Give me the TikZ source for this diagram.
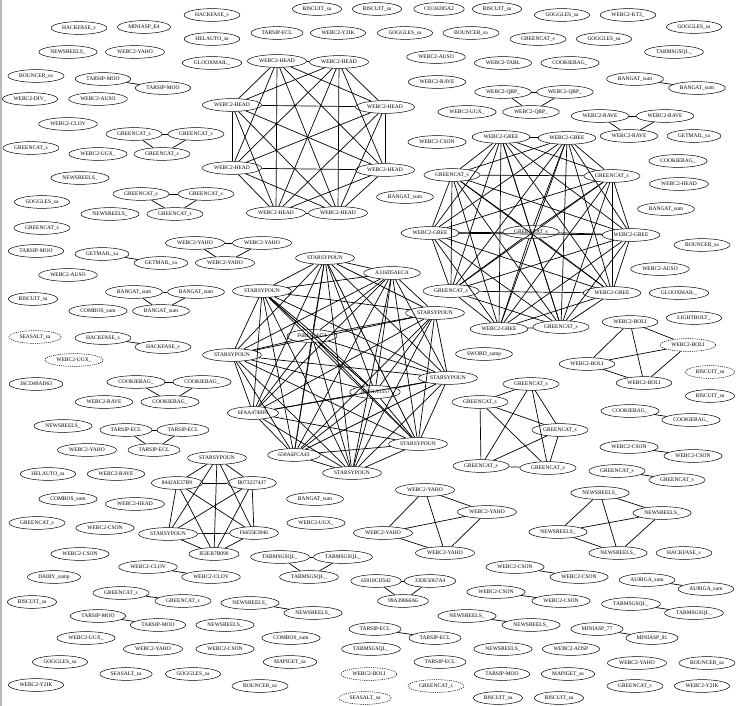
\documentclass[tikz,border=0pt]{standalone}
\usepackage{fontspec}
\setmainfont{Liberation Serif}
\usetikzlibrary{shapes.geometric}
\newcommand\gvfont{\fontsize{5.5}{6.5}\selectfont}
\tikzset{
  gv_node/.style={draw=black,ellipse,line width=0.5pt,inner xsep=3pt,inner ysep=2pt,
    text height=3.9pt,text depth=1.1pt,font=\gvfont},
  gv_dash/.style={gv_node,dash pattern=on 1.2pt off 1pt},
  gv_edge/.style={draw=black,line width=0.7pt},
}
\begin{document}
\begin{tikzpicture}[x=1pt,y=-1pt]
  \useasboundingbox (0,0) rectangle (737,706);
  \draw[gray!55,line width=1.6pt] (0.8,0)--(0.8,706);

  % WEBC2-HEAD ring
  \node[gv_node] (hd1) at (277,61) {WEBC2-HEAD};
  \node[gv_node] (hd2) at (339,62) {WEBC2-HEAD};
  \node[gv_node] (hd3) at (232,105) {WEBC2-HEAD};
  \node[gv_node] (hd4) at (385,107) {WEBC2-HEAD};
  \node[gv_node] (hd5) at (232,168) {WEBC2-HEAD};
  \node[gv_node] (hd6) at (385,170) {WEBC2-HEAD};
  \node[gv_node] (hd7) at (276,213) {WEBC2-HEAD};
  \node[gv_node] (hd8) at (338,213) {WEBC2-HEAD};

  % WEBC2-GREE ring
  \node[gv_node] (gr1) at (501,137) {WEBC2-GREE};
  \node[gv_node] (gr2) at (567,138) {WEBC2-GREE};
  \node[gv_node] (gr3) at (452,175) {GREENCAT\_s};
  \node[gv_node] (gr4) at (612,176) {GREENCAT\_s};
  \node[gv_node] (gr5) at (430,233) {WEBC2-GREE};
  \node[gv_node] (gr6) at (531,232) {GREENCAT\_s};
  \node[gv_node] (gr7) at (631,235) {WEBC2-GREE};
  \node[gv_node] (gr8) at (451,291) {GREENCAT\_s};
  \node[gv_node] (gr9) at (612,293) {WEBC2-GREE};
  \node[gv_node] (gr10) at (499,329) {WEBC2-GREE};
  \node[gv_node] (gr11) at (561,327) {GREENCAT\_s};

  % STARSYPOUN ring
  \node[gv_node] (st1) at (325,258) {STARSYPOUN};
  \node[gv_node] (st2) at (392,273) {A316D5AECA};
  \node[gv_node] (st3) at (262,291) {STARSYPOUN};
  \node[gv_node] (st4) at (435,313) {STARSYPOUN};
  \node[gv_node] (st5) at (312,336) {F6BE914474};
  \node[gv_node] (st6) at (232,355) {STARSYPOUN};
  \node[gv_node] (st7) at (448,378) {STARSYPOUN};
  \node[gv_node] (st8) at (375,392) {3B061A1557};
  \node[gv_node] (st9) at (253,413) {6FAA4740F6};
  \node[gv_node] (st10) at (418,444) {STARSYPOUN};
  \node[gv_node] (st11) at (294,455) {650A6FCA43};
  \node[gv_node] (st12) at (352,473) {STARSYPOUN};

  % small STARSYPOUN group
  \node[gv_node] (sm1) at (217,458) {STARSYPOUN};
  \node[gv_node] (sm2) at (177,483) {8442AE37B9};
  \node[gv_node] (sm3) at (252,483) {B073227437};
  \node[gv_node] (sm4) at (168,534) {STARSYPOUN};
  \node[gv_node] (sm5) at (254,533) {F6655E3946};
  \node[gv_node] (sm6) at (214,554) {IF2EB7B090};

  \node[gv_node] (gc1) at (531,384) {GREENCAT\_s};
  \node[gv_node] (gc2) at (480,402) {GREENCAT\_s};
  \node[gv_node] (gc3) at (560,430) {GREENCAT\_s};
  \node[gv_node] (gc4) at (481,466) {GREENCAT\_s};
  \node[gv_node] (gc5) at (548,468) {GREENCAT\_s};

  \node[gv_node] (bo1) at (630,322) {WEBC2-BOLI};
  \node[gv_dash] (bo2) at (688,345) {WEBC2-BOLI};
  \node[gv_node] (bo3) at (587,364) {WEBC2-BOLI};
  \node[gv_node] (bo4) at (644,383) {WEBC2-BOLI};

  \node[gv_node] (ya1) at (425,490) {WEBC2-YAHO};
  \node[gv_node] (ya2) at (487,512) {WEBC2-YAHO};
  \node[gv_node] (ya3) at (383,533) {WEBC2-YAHO};
  \node[gv_node] (ya4) at (445,553) {WEBC2-YAHO};

  \node[gv_node] (nw1) at (600,493) {NEWSREELS\_};
  \node[gv_node] (nw2) at (662,513) {NEWSREELS\_};
  \node[gv_node] (nw3) at (558,532) {NEWSREELS\_};
  \node[gv_node] (nw4) at (618,553) {NEWSREELS\_};

  % triangles
  \node[gv_node] (qb1) at (503,92) {WEBC2-QBP\_};
  \node[gv_node] (qb2) at (565,92) {WEBC2-QBP\_};
  \node[gv_node] (qb3) at (531,112) {WEBC2-QBP\_};
  \node[gv_node] (rv1) at (600,116) {WEBC2-RAVE};
  \node[gv_node] (rv2) at (665,116) {WEBC2-RAVE};
  \node[gv_node] (rv3) at (629,136) {WEBC2-RAVE};
  \node[gv_node] (ga1) at (134,134) {GREENCAT\_s};
  \node[gv_node] (ga2) at (196,134) {GREENCAT\_s};
  \node[gv_node] (ga3) at (162,154) {GREENCAT\_s};
  \node[gv_node] (gb1) at (141,194) {GREENCAT\_s};
  \node[gv_node] (gb2) at (206,194) {GREENCAT\_s};
  \node[gv_node] (gb3) at (175,214) {GREENCAT\_s};
  \node[gv_node] (yt1) at (195,243) {WEBC2-YAHO};
  \node[gv_node] (yt2) at (262,243) {WEBC2-YAHO};
  \node[gv_node] (yt3) at (225,263) {WEBC2-YAHO};
  \node[gv_node] (ba1) at (134,292) {BANGAT\_sum};
  \node[gv_node] (ba2) at (196,292) {BANGAT\_sum};
  \node[gv_node] (ba3) at (161,311) {BANGAT\_sum};
  \node[gv_node] (ck1) at (136,382) {COOKIEBAG\_};
  \node[gv_node] (ck2) at (202,382) {COOKIEBAG\_};
  \node[gv_node] (ck3) at (170,402) {COOKIEBAG\_};
  \node[gv_node] (te1) at (126,430) {TARSIP-ECL};
  \node[gv_node] (te2) at (183,430) {TARSIP-ECL};
  \node[gv_node] (te3) at (154,450) {TARSIP-ECL};
  \node[gv_node] (tq1) at (280,557) {TABMSGSQL\_};
  \node[gv_node] (tq2) at (343,557) {TABMSGSQL\_};
  \node[gv_node] (tq3) at (309,577) {TABMSGSQL\_};
  \node[gv_node] (hx1) at (376,581) {65018CD542};
  \node[gv_node] (hx2) at (430,581) {33DE5067A4};
  \node[gv_node] (hx3) at (403,601) {99A39866A6};

  % pairs
  \node[gv_node] (pa1) at (103,79) {TARSIP-MOO};
  \node[gv_node] (pa2) at (163,88) {TARSIP-MOO};
  \node[gv_node] (pb1) at (635,79) {BANGAT\_sum};
  \node[gv_node] (pb2) at (697,88) {BANGAT\_sum};
  \node[gv_node] (pc1) at (102,254) {GETMAIL\_sa};
  \node[gv_node] (pc2) at (161,263) {GETMAIL\_sa};
  \node[gv_node] (pd1) at (103,338) {HACKFASE\_s};
  \node[gv_node] (pd2) at (163,347) {HACKFASE\_s};
  \node[gv_node] (pe1) at (630,411) {COOKIEBAG\_};
  \node[gv_node] (pe2) at (691,420) {COOKIEBAG\_};
  \node[gv_node] (pf1) at (629,447) {WEBC2-CSON};
  \node[gv_node] (pf2) at (693,456) {WEBC2-CSON};
  \node[gv_node] (pg1) at (617,471) {GREENCAT\_s};
  \node[gv_node] (pg2) at (677,480) {GREENCAT\_s};
  \node[gv_node] (ph1) at (148,567) {WEBC2-CLOV};
  \node[gv_node] (ph2) at (211,577) {WEBC2-CLOV};
  \node[gv_node] (pi1) at (515,567) {WEBC2-CSON};
  \node[gv_node] (pi2) at (579,577) {WEBC2-CSON};
  \node[gv_node] (pj1) at (647,580) {AURIGA\_sum};
  \node[gv_node] (pj2) at (706,589) {AURIGA\_sum};
  \node[gv_node] (pk1) at (496,592) {WEBC2-CSON};
  \node[gv_node] (pk2) at (561,601) {WEBC2-CSON};
  \node[gv_node] (pl1) at (121,593) {GREENCAT\_s};
  \node[gv_node] (pl2) at (183,601) {GREENCAT\_s};
  \node[gv_node] (pm1) at (250,603) {NEWSREELS\_};
  \node[gv_node] (pm2) at (313,613) {NEWSREELS\_};
  \node[gv_node] (pn1) at (631,604) {TABMSGSQL\_};
  \node[gv_node] (pn2) at (694,613) {TABMSGSQL\_};
  \node[gv_node] (po1) at (98,616) {TARSIP-MOO};
  \node[gv_node] (po2) at (158,625) {TARSIP-MOO};
  \node[gv_node] (pp1) at (467,616) {NEWSREELS\_};
  \node[gv_node] (pp2) at (531,625) {NEWSREELS\_};
  \node[gv_node] (pq1) at (375,629) {TARSIP-ECL};
  \node[gv_node] (pq2) at (435,638) {TARSIP-ECL};
  \node[gv_node] (pr1) at (597,629) {MINIASP\_77};
  \node[gv_node] (pr2) at (652,638) {MINIASP\_81};

  % single nodes
  \node[gv_node] (u1) at (212,15) {HACKFASE\_s};
  \node[gv_node] (u2) at (317,9) {BISCUIT\_sa};
  \node[gv_node] (u3) at (377,9) {BISCUIT\_sa};
  \node[gv_node] (u4) at (439,9) {C0134285A2};
  \node[gv_node] (u5) at (497,9) {BISCUIT\_sa};
  \node[gv_node] (u6) at (562,15) {GOGGLES\_sa};
  \node[gv_node] (u7) at (628,15) {WEBC2-KT3\_};
  \node[gv_node] (u8) at (79,28) {HACKFASE\_s};
  \node[gv_node] (u9) at (144,27) {MINIASP\_E4};
  \node[gv_node] (u10) at (694,27) {GOGGLES\_sa};
  \node[gv_node] (u11) at (277,33) {TARSIP-ECL};
  \node[gv_node] (u12) at (338,33) {WEBC2-Y2IK};
  \node[gv_node] (u13) at (405,33) {GOGGLES\_sa};
  \node[gv_node] (u14) at (471,33) {BOUNCER\_sa};
  \node[gv_node] (u15) at (212,39) {HELAUTO\_sa};
  \node[gv_node] (u16) at (538,39) {GREENCAT\_s};
  \node[gv_node] (u17) at (604,39) {GOGGLES\_sa};
  \node[gv_node] (u18) at (68,52) {NEWSREELS\_};
  \node[gv_node] (u19) at (135,52) {WEBC2-YAHO};
  \node[gv_node] (u20) at (674,52) {TABMSGSQL\_};
  \node[gv_node] (u21) at (436,57) {WEBC2-AUSO};
  \node[gv_node] (u22) at (212,63) {GLOOXMAIL\_};
  \node[gv_node] (u23) at (503,63) {WEBC2-TABL};
  \node[gv_node] (u24) at (570,63) {COOKIEBAG\_};
  \node[gv_node] (u25) at (36,76) {BOUNCER\_sa};
  \node[gv_node] (u26) at (437,82) {WEBC2-RAVE};
  \node[gv_node] (u27) at (30,99) {WEBC2-DIV\_};
  \node[gv_node] (u28) at (98,99) {WEBC2-AUSO};
  \node[gv_node] (u29) at (467,112) {WEBC2-UGX\_};
  \node[gv_node] (u30) at (68,124) {WEBC2-CLOV};
  \node[gv_node] (u31) at (694,136) {GETMAIL\_sa};
  \node[gv_node] (u32) at (437,142) {WEBC2-CSON};
  \node[gv_node] (u33) at (31,148) {GREENCAT\_s};
  \node[gv_node] (u34) at (98,154) {WEBC2-UGX\_};
  \node[gv_node] (u35) at (678,161) {COOKIEBAG\_};
  \node[gv_node] (u36) at (80,178) {NEWSREELS\_};
  \node[gv_node] (u37) at (679,184) {WEBC2-HEAD};
  \node[gv_node] (u38) at (405,197) {BANGAT\_sum};
  \node[gv_node] (u39) at (42,202) {GOGGLES\_sa};
  \node[gv_node] (u40) at (666,209) {BANGAT\_sum};
  \node[gv_node] (u41) at (110,214) {NEWSREELS\_};
  \node[gv_node] (u42) at (42,228) {GREENCAT\_s};
  \node[gv_node] (u43) at (702,245) {BOUNCER\_sa};
  \node[gv_node] (u44) at (36,251) {TARSIP-MOO};
  \node[gv_node] (u45) at (660,269) {WEBC2-AUSO};
  \node[gv_node] (u46) at (68,275) {WEBC2-AUSO};
  \node[gv_node] (u47) at (679,293) {GLOOXMAIL\_};
  \node[gv_node] (u48) at (33,299) {BISCUIT\_sa};
  \node[gv_node] (u49) at (98,311) {COMBOS\_sum};
  \node[gv_node] (u50) at (694,318) {LIGHTBOLT\_};
  \node[gv_dash] (u51) at (35,337) {SEASALT\_sa};
  \node[gv_node] (u52) at (484,354) {SWORD\_samp};
  \node[gv_dash] (u53) at (74,360) {WEBC2-UGX\_};
  \node[gv_dash] (u54) at (710,372) {BISCUIT\_sa};
  \node[gv_node] (u55) at (36,384) {36CD49AD63};
  \node[gv_node] (u56) at (710,396) {BISCUIT\_sa};
  \node[gv_node] (u57) at (104,402) {WEBC2-RAVE};
  \node[gv_node] (u58) at (63,426) {NEWSREELS\_};
  \node[gv_node] (u59) at (87,450) {WEBC2-YAHO};
  \node[gv_node] (u60) at (48,474) {HELAUTO\_sa};
  \node[gv_node] (u61) at (116,474) {WEBC2-RAVE};
  \node[gv_node] (u62) at (68,499) {COMBOS\_sum};
  \node[gv_node] (u63) at (315,499) {BANGAT\_sum};
  \node[gv_node] (u64) at (135,504) {WEBC2-HEAD};
  \node[gv_node] (u65) at (37,523) {GREENCAT\_s};
  \node[gv_node] (u66) at (316,523) {WEBC2-UGX\_};
  \node[gv_node] (u67) at (105,528) {WEBC2-CSON};
  \node[gv_node] (u68) at (684,553) {HACKFASE\_s};
  \node[gv_node] (u69) at (80,554) {WEBC2-CSON};
  \node[gv_node] (u70) at (54,577) {DAIRY\_samp};
  \node[gv_node] (u71) at (32,602) {BISCUIT\_sa};
  \node[gv_node] (u72) at (225,625) {NEWSREELS\_};
  \node[gv_node] (u73) at (86,638) {WEBC2-UGX\_};
  \node[gv_node] (u74) at (291,638) {COMBOS\_sum};
  \node[gv_node] (u75) at (153,649) {WEBC2-YAHO};
  \node[gv_node] (u76) at (225,649) {WEBC2-CSON};
  \node[gv_node] (u77) at (371,649) {TABMSGSQL\_};
  \node[gv_node] (u78) at (503,649) {NEWSREELS\_};
  \node[gv_node] (u79) at (571,649) {WEBC2-ADSP};
  \node[gv_node] (u80) at (60,662) {GOGGLES\_sa};
  \node[gv_node] (u81) at (290,662) {MAPIGET\_sa};
  \node[gv_node] (u82) at (440,662) {TARSIP-ECL};
  \node[gv_node] (u83) at (637,663) {WEBC2-YAHO};
  \node[gv_node] (u84) at (707,663) {BOUNCER\_sa};
  \node[gv_node] (u85) at (126,674) {SEASALT\_sa};
  \node[gv_node] (u86) at (193,674) {GOGGLES\_sa};
  \node[gv_dash] (u87) at (369,674) {WEBC2-BOLI};
  \node[gv_node] (u88) at (502,674) {TARSIP-MOO};
  \node[gv_node] (u89) at (568,674) {MAPIGET\_sa};
  \node[gv_node] (u90) at (36,685) {WEBC2-Y2IK};
  \node[gv_node] (u91) at (260,686) {BOUNCER\_sa};
  \node[gv_dash] (u92) at (436,686) {GREENCAT\_s};
  \node[gv_node] (u93) at (635,686) {GREENCAT\_s};
  \node[gv_node] (u94) at (702,686) {WEBC2-Y2IK};
  \node[gv_dash] (u95) at (365,698) {SEASALT\_sa};
  \node[gv_node] (u96) at (498,698) {BISCUIT\_sa};
  \node[gv_node] (u97) at (559,698) {BISCUIT\_sa};

  % complete groups
  \foreach \g/\n in {hd/8,gr/11,st/12,sm/6,gc/5,bo/4,ya/4,nw/4,qb/3,rv/3,ga/3,gb/3,yt/3,ba/3,ck/3,te/3,tq/3,hx/3}{
    \foreach \i in {1,...,\n}{
      \foreach \j in {1,...,\n}{
        \ifnum\i<\j \draw[gv_edge](\g\i)--(\g\j);\fi
      }
    }
  }
  \draw[gv_edge](st3) to[bend left=3] (st8);
  \foreach \p in {pa,pb,pc,pd,pe,pf,pg,ph,pi,pj,pk,pl,pm,pn,po,pp,pq,pr}{
    \draw[gv_edge](\p1)--(\p2);
  }
\end{tikzpicture}
\end{document}
